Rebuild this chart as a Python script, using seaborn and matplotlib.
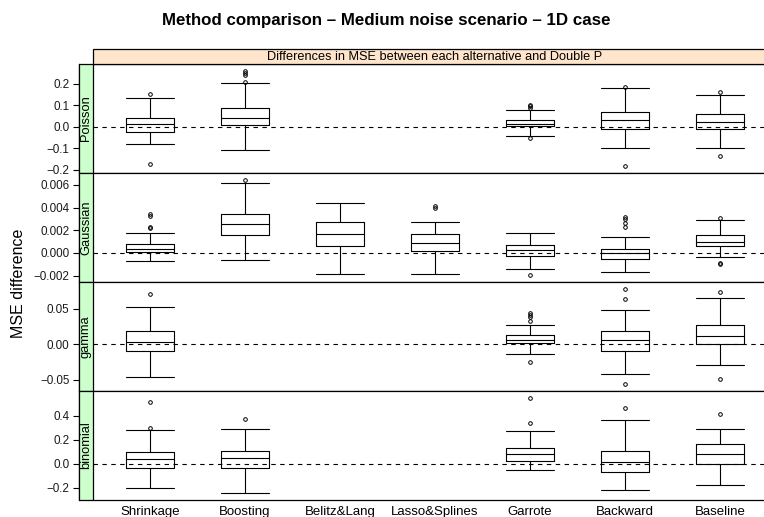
import matplotlib
matplotlib.use("Agg")
import matplotlib.pyplot as plt
from matplotlib.patches import Rectangle
import numpy as np
import pandas as pd
import seaborn as sns

# ---- data -----------------------------------------------------------------
methods = ["Shrinkage", "Boosting", "Belitz&Lang", "Lasso&Splines",
           "Garrote", "Backward", "Baseline"]
families = ["Poisson", "Gaussian", "gamma", "binomial"]

# five-number summaries per method: (lower whisker, Q1, median, Q3, upper whisker)
poisson_box = [
    (-0.078, -0.024, 0.014, 0.041, 0.135),
    (-0.106, 0.011, 0.041, 0.088, 0.203),
    None,
    None,
    (-0.043, 0.002, 0.015, 0.032, 0.077),
    (-0.100, -0.008, 0.034, 0.068, 0.180),
    (-0.100, -0.011, 0.025, 0.058, 0.146),
]
poisson_out = [[-0.173, 0.151], [0.209, 0.240, 0.251, 0.261], [], [],
               [-0.051, 0.086, 0.095, 0.103], [-0.183, 0.186], [-0.134, 0.163]]

gaussian_box = [
    (-0.00073, 0.00012, 0.00036, 0.00077, 0.00172),
    (-0.00065, 0.00157, 0.00257, 0.00345, 0.00614),
    (-0.00182, 0.00057, 0.00163, 0.00272, 0.00437),
    (-0.00182, 0.00021, 0.00088, 0.00165, 0.00274),
    (-0.00138, -0.00023, 0.00027, 0.00071, 0.00177),
    (-0.00168, -0.00050, 0.00000, 0.00039, 0.00145),
    (-0.00035, 0.00057, 0.00101, 0.00154, 0.00287),
]
gaussian_out = [[0.00219, 0.00227, 0.00327, 0.00342], [0.00646], [],
                [0.00400, 0.00413], [-0.00197],
                [0.00225, 0.00263, 0.00298, 0.00313], [-0.00100, -0.00088, 0.00307]]

gamma_box = [
    (-0.0455, -0.0093, 0.0028, 0.0189, 0.0527),
    None,
    None,
    None,
    (-0.0136, 0.0019, 0.0066, 0.0127, 0.0268),
    (-0.0413, -0.0093, 0.0056, 0.0183, 0.0489),
    (-0.0286, 0.0005, 0.0122, 0.0273, 0.0648),
]
gamma_out = [[0.0714], [], [], [], [-0.0254, 0.0324, 0.0380, 0.0408, 0.0437],
             [-0.0563, 0.0640, 0.0785], [-0.0493, 0.0738]]

binomial_box = [
    (-0.203, -0.039, 0.042, 0.097, 0.286),
    (-0.247, -0.036, 0.050, 0.105, 0.294),
    None,
    None,
    (-0.050, 0.022, 0.083, 0.130, 0.275),
    (-0.217, -0.067, 0.019, 0.108, 0.367),
    (-0.181, 0.000, 0.086, 0.163, 0.294),
]
binomial_out = [[0.297, 0.517], [0.372], [], [], [0.338, 0.553], [0.469], [0.413]]

y_ticks = {
    "Poisson": [-0.2, -0.1, 0.0, 0.1, 0.2],
    "Gaussian": [-0.002, 0.0, 0.002, 0.004, 0.006],
    "gamma": [-0.05, 0.0, 0.05],
    "binomial": [-0.2, 0.0, 0.2, 0.4],
}
y_fmt = {"Poisson": "{:.1f}", "Gaussian": "{:.3f}", "gamma": "{:.2f}", "binomial": "{:.1f}"}

# ---- long table -----------------------------------------------------------
rows = []
for fam, boxes, outs in zip(families,
                            [poisson_box, gaussian_box, gamma_box, binomial_box],
                            [poisson_out, gaussian_out, gamma_out, binomial_out]):
    for i, (m, b, o) in enumerate(zip(methods, boxes, outs)):
        if b is None:
            continue
        rows.append(dict(family=fam, method=m, pos=i + 1,
                         lo=b[0], q1=b[1], med=b[2], q3=b[3], hi=b[4], fliers=o))
df = pd.DataFrame(rows)

# ---- style ----------------------------------------------------------------
sns.set_theme(style="white")
plt.rcParams["font.family"] = ["Liberation Sans", "DejaVu Sans"]
plt.rcParams["axes.unicode_minus"] = True

W, H, DPI = 764, 517, 100
BLACK = "black"
LW = 0.8


def draw_boxes(data, **kws):
    ax = plt.gca()
    stats = []
    for _, r in data.iterrows():
        stats.append(dict(whislo=r.lo, q1=r.q1, med=r.med, q3=r.q3,
                          whishi=r.hi, fliers=np.asarray(r.fliers)))
    ax.bxp(stats, positions=data["pos"].tolist(), widths=0.5,
           showfliers=True, manage_ticks=False,
           boxprops=dict(color=BLACK, lw=LW),
           medianprops=dict(color=BLACK, lw=LW),
           whiskerprops=dict(color=BLACK, lw=LW, linestyle="-"),
           capprops=dict(color=BLACK, lw=LW),
           capwidths=0.5,
           flierprops=dict(marker="o", markersize=2.6, markerfacecolor="none",
                           markeredgecolor=BLACK, markeredgewidth=0.7))
    ax.axhline(0, color=BLACK, lw=0.8, linestyle=(0, (4, 4)), zorder=1)
    # lattice-style limits: data range padded by 7 %
    vals = np.concatenate([data[["lo", "hi"]].to_numpy().ravel(),
                           np.concatenate([np.asarray(f, float) for f in data["fliers"]])])
    lo, hi = vals.min(), vals.max()
    pad = 0.07 * (hi - lo)
    ax.set_ylim(lo - pad, hi + pad)


g = sns.FacetGrid(df, row="family", row_order=families, sharey=False, sharex=True,
                  height=1.1, aspect=6.9, despine=False)
g.map_dataframe(draw_boxes)
g.set_titles("")
g.set_axis_labels("", "")

fig = g.figure
fig.set_size_inches(W / DPI, H / DPI)
fig.set_dpi(DPI)

left_px, right_px, top_px, bottom_px = 93, 777, 64, 500
fig.subplots_adjust(left=left_px / W, right=right_px / W,
                    top=1 - top_px / H, bottom=1 - bottom_px / H, hspace=0)

strip_w = 14 / (right_px - left_px)
panel_h = (bottom_px - top_px) / 4

for ax, fam in zip(g.axes.flat, families):
    ax.set_xlim(0.4, 7.6)
    for s in ax.spines.values():
        s.set_color(BLACK)
        s.set_linewidth(0.9)
    ax.spines["left"].set_position(("outward", 14 * 72 / DPI))
    ax.set_yticks(y_ticks[fam])
    ax.set_yticklabels([y_fmt[fam].format(t).replace("-", "\u2212") for t in y_ticks[fam]])
    ax.tick_params(axis="y", left=True, length=4.3, width=0.8, pad=2.5,
                   labelsize=8.4, colors=BLACK, labelcolor="#1a1a1a")
    ax.tick_params(axis="x", bottom=False, length=0)
    ax.grid(False)
    # green side strip with the family name
    ax.add_patch(Rectangle((-strip_w, 0), strip_w, 1, transform=ax.transAxes,
                           facecolor="#CCFFCC", edgecolor=BLACK, lw=0.9,
                           clip_on=False, zorder=3))
    ax.text(-strip_w / 2, 0.5, fam, transform=ax.transAxes, rotation=90,
            ha="center", va="center", fontsize=9.3, color=BLACK, zorder=4)

# orange top strip
top_ax = g.axes.flat[0]
sh = 15 / panel_h
top_ax.add_patch(Rectangle((0, 1), 1, sh, transform=top_ax.transAxes,
                           facecolor="#FFE5CC", edgecolor=BLACK, lw=0.9,
                           clip_on=False, zorder=3))
top_ax.text(0.5, 1 + sh / 2, "Differences in MSE between each alternative and Double P",
            transform=top_ax.transAxes, ha="center", va="center",
            fontsize=9.2, color=BLACK, zorder=4)

bottom_ax = g.axes.flat[-1]
bottom_ax.set_xticks(range(1, len(methods) + 1))
bottom_ax.set_xticklabels(methods, fontsize=9.5, color=BLACK)
bottom_ax.tick_params(axis="x", pad=4, labelbottom=True)

fig.text(19 / W, 1 - 283 / H, "MSE difference", rotation=90, ha="center",
         va="center", fontsize=11.5, color=BLACK)
fig.suptitle("Method comparison \u2013 Medium noise scenario \u2013 1D case",
             x=386 / W, y=1 - 20.5 / H, ha="center", va="center",
             fontsize=12.2, fontweight="bold", color=BLACK)

fig.savefig("out.png", dpi=DPI, facecolor="white")
